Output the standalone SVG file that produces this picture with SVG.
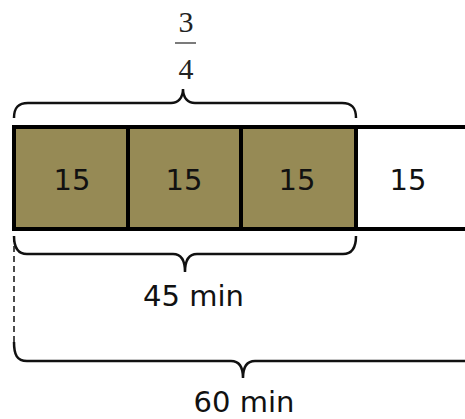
<svg xmlns="http://www.w3.org/2000/svg" width="465" height="419" viewBox="0 0 465 419">
<style>
.seg{fill:#968a55;stroke:#000;stroke-width:4}
.bar{fill:none;stroke:#000;stroke-width:4}
.lbl{font-family:"DejaVu Sans",sans-serif;font-size:29px;fill:#111;text-anchor:middle}
.frac{font-family:"Liberation Serif",serif;font-size:30px;fill:#222;text-anchor:middle}
.brace{fill:none;stroke:#111;stroke-width:2.5}
</style>
<rect width="465" height="419" fill="#fff"/>
<g id="seg1"><rect class="seg" x="14" y="127" width="114" height="102"/><text class="lbl" x="72" y="190">15</text></g>
<g id="seg2"><rect class="seg" x="128" y="127" width="113" height="102"/><text class="lbl" x="184" y="190">15</text></g>
<g id="seg3"><rect class="seg" x="241" y="127" width="115" height="102"/><text class="lbl" x="297" y="190">15</text></g>
<g id="seg4"><path class="bar" d="M356,127 H467 M356,229 H467"/><text class="lbl" x="408" y="190">15</text></g>
<g id="fraction"><text class="frac" x="186" y="32">3</text><line x1="175" y1="43" x2="196" y2="43" stroke="#333" stroke-width="1.3"/><text class="frac" x="186" y="79">4</text></g>
<g id="label45"><text class="lbl" x="193.5" y="306">45 min</text></g>
<g id="label60"><text class="lbl" x="244" y="412">60 min</text></g>
<g id="connectors">
<path class="brace" d="M14,118 C14,108 18,103 28,103 L171,103 C178,103 183,98 183,89 C183,98 188,103 195,103 L342,103 C352,103 356,108 356,118"/>
<path class="brace" d="M14,236 C14,248 18,254 27,254 L173,254 C180,254 185,259 185,272 C185,259 190,254 197,254 L343,254 C352,254 356,248 356,236"/>
<line x1="14" y1="236" x2="14" y2="342" stroke="#111" stroke-width="1.5" stroke-dasharray="6,4"/>
<path class="brace" stroke-width="3" d="M14,342 C14,355 17,361 27,361 L231,361 C238,361 243,366 243,378 C243,366 248,361 255,361 L468,361"/>
</g>
</svg>
